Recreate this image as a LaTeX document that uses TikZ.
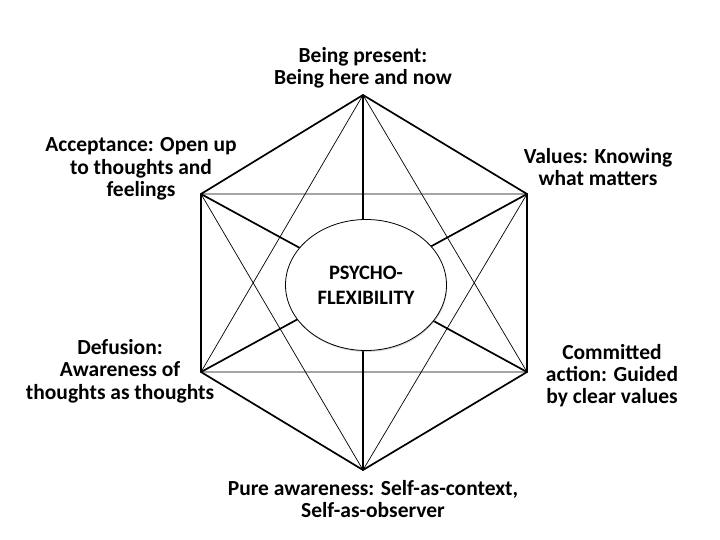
\documentclass[tikz,border=0pt]{standalone}
\usepackage{fontspec}
\setmainfont{Carlito}
\usetikzlibrary{shapes.geometric,shadows}

\begin{document}
\begin{tikzpicture}[
    x=1pt, y=-1pt,
    facet/.style={
        align=center,
        inner sep=0pt,
        font=\fontsize{21.5}{22.3}\selectfont\bfseries
    },
    core/.style={
        ellipse,
        draw=black,
        line width=0.8pt,
        fill=white,
        minimum width=161pt,
        minimum height=131pt,
        align=center,
        font=\fontsize{20.5}{25}\selectfont\bfseries,
        drop shadow={shadow xshift=0.6pt, shadow yshift=-1.4pt, opacity=0.35}
    },
    rim/.style={black, line width=1.7pt, line join=miter},
    spoke/.style={black, line width=1.7pt},
    tri/.style={black, line width=0.7pt}
]

\useasboundingbox (0,0) rectangle (720,540);

% hexagon corners
\coordinate (top) at (363,95);
\coordinate (ur) at (527,194);
\coordinate (lr) at (527,372);
\coordinate (bot) at (363,470);
\coordinate (ll) at (201,372);
\coordinate (ul) at (201,194);

% two crossing triangles
\draw[tri] (top) -- (ll) -- (lr) -- cycle;
\draw[tri] (bot) -- (ul) -- (ur) -- cycle;

% spokes through the centre
\draw[spoke] (top) -- (bot);
\draw[spoke] (ul) -- (lr);
\draw[spoke] (ur) -- (ll);

% outer hexagon
\draw[rim] (top) -- (ur) -- (lr) -- (bot) -- (ll) -- (ul) -- cycle;

% centre ellipse
\node[core] (flex) at (366,285) {PSYCHO-\\FLEXIBILITY};

% corner labels
\node[facet] (present) at (363,68) {Being present:\\Being here and now};
\node[facet] (values) at (598,167) {Values: Knowing\\what matters};
\node[facet] (action) at (612,375.5) {Committed\\action: Guided\\by clear values};
\node[facet] (aware) at (373,499) {Pure awareness: Self-as-context,\\Self-as-observer};
\node[facet] (defuse) at (120,371) {Defusion:\\Awareness of\\thoughts as thoughts};
\node[facet] (accept) at (141,169) {Acceptance: Open up\\to thoughts and\\feelings};

\end{tikzpicture}
\end{document}
